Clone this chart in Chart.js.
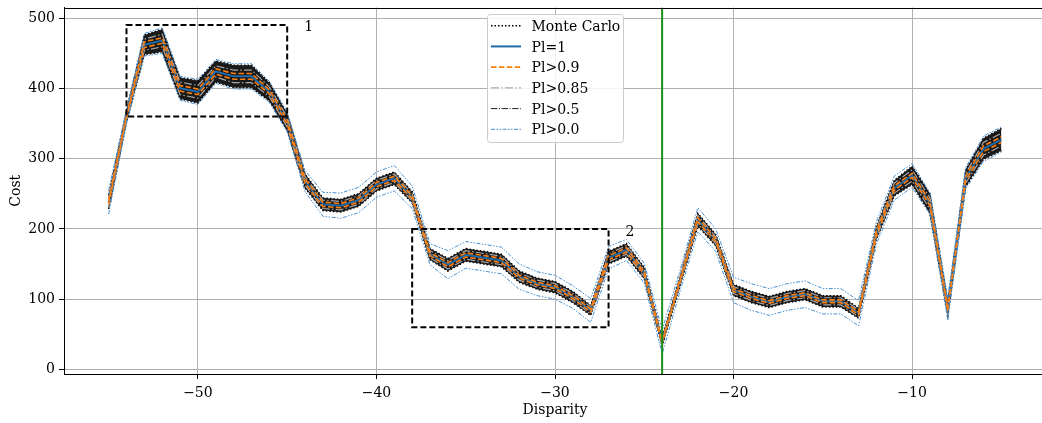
<!DOCTYPE html>
<html><head><meta charset="utf-8">
<script src="https://cdn.jsdelivr.net/npm/chart.js"></script>
<style>
html,body{margin:0;padding:0;background:#fff;overflow:hidden;width:1042px;height:423px;}
#wrap{position:relative;width:1050px;height:423px;}
canvas{display:block;}
</style></head><body>
<div id="wrap"><canvas id="c" width="1050" height="423"></canvas></div>
<script>
// ---- data ----
const disparity = [-55,-54,-53,-52,-51,-50,-49,-48,-47,-46,-45,-44,-43,-42,-41,-40,-39,-38,-37,-36,-35,-34,-33,-32,-31,-30,-29,-28,-27,-26,-25,-24,-23,-22,-21,-20,-19,-18,-17,-16,-15,-14,-13,-12,-11,-10,-9,-8,-7,-6,-5];
const plOne = [238,360,462,468,400,395,424,417,417,395,352,268,235,233,241,263,272,245,164,149,163,159,155,132,122,117,103,84,159,170,137,39,126,213,184,113,103,96,103,107,97,97,80,194,258,276,236,86,272,314,327];
// half-widths of the bands around Pl=1
const mcHalf   = [10,8,14,16,15,16,15,16,16,13,12,10,9,9,9,9,9,8,8,9,9,9,9,8,8,8,8,7,9,9,8,6,7,9,8,8,8,8,8,8,8,8,7,9,11,13,14,9,12,15,16];
const pl90Half = [3,2,4,4,4,4,4,4,4,3,3,3,3,3,3,3,3,2,2,3,3,3,3,2,2,2,2,2,3,3,2,2,2,3,2,2,2,2,2,2,2,2,2,3,3,3,3,2,3,4,4];
const pl85Half = [6,5,8,9,9,9,8,9,9,7,7,6,6,6,6,6,6,5,5,6,6,6,6,5,5,5,5,5,6,6,5,4,5,6,5,5,5,5,5,5,5,5,5,6,7,8,8,5,7,9,9];
const pl50Half = [9,7,13,15,14,15,14,15,15,12,11,9,8,8,8,8,8,7,7,8,8,8,8,7,7,7,7,6,8,8,7,5,6,8,7,7,7,7,7,7,7,7,6,8,10,12,13,8,11,14,15];
const pl0Half  = [17,10,16,18,17,18,17,18,18,15,14,15,17,18,18,18,18,16,15,20,19,19,19,18,17,17,16,17,16,15,14,17,15,17,16,18,19,19,19,19,18,18,18,16,17,17,15,16,15,18,18];
const xTicks = [-50,-40,-30,-20,-10];
const yTicks = [0,100,200,300,400,500];
const markedDisparity = -24;
const box1 = {x0:-54, x1:-45, y0:360, y1:490, label:'1', lx:-43.8, ly:488};
const box2 = {x0:-38, x1:-27, y0:60, y1:200, label:'2', lx:-25.8, ly:197};
const boxes = [box1, box2];

// ---- build series ----
function band(half, sign){ return disparity.map((x,i)=>({x:x, y:plOne[i] + sign*half[i]})); }
const centre = disparity.map((x,i)=>({x:x, y:plOne[i]}));

const FONT = '"DejaVu Serif", "Liberation Serif", serif';
const dotted = [1.5,2], dashed=[5.5,2.4], dashdot=[6.4,1.6,1,1.6], dashdotGray=[8,2.2,1.5,2.2], dashdotdot=[4,1.5,1.5,1.5,1.5,1.5];

function ds(label, data, color, width, dash, extra){
  return Object.assign({label:label, data:data, borderColor:color, borderWidth:width, borderDash:dash, fill:false, pointRadius:0, tension:0}, extra||{});
}
// listed bottom -> top
const datasets = [
  ds('Monte Carlo', band(mcHalf,1), '#000', 1.5, dotted, {legendRank:0}),
  ds('Monte Carlo lower', band(mcHalf,-1), '#000', 1.5, dotted, {fill:'-1', backgroundColor:'rgba(0,0,0,0.9)'}),
  ds('Pl>0.5', band(pl50Half,1), '#222', 1, dashdot, {legendRank:4}),
  ds('Pl>0.5 lower', band(pl50Half,-1), '#222', 1, dashdot),
  ds('Pl>0.85', band(pl85Half,1), '#a8a8a8', 1.2, dashdotGray, {legendRank:3}),
  ds('Pl>0.85 lower', band(pl85Half,-1), '#a8a8a8', 1.2, dashdotGray),
  ds('Pl=1', centre, '#1f6aa8', 2, [], {legendRank:1}),
  ds('Pl>0.9', band(pl90Half,1), '#ff7f0e', 1.6, dashed, {legendRank:2}),
  ds('Pl>0.9 lower', band(pl90Half,-1), '#ff7f0e', 1.6, dashed),
  ds('Pl>0.0', band(pl0Half,1), '#4a90d0', 1, dashdotdot, {legendRank:5}),
  ds('Pl>0.0 lower', band(pl0Half,-1), '#4a90d0', 1, dashdotdot)
];
datasets.forEach((d,i)=>{ d.order = datasets.length - i; });

function fmt(v){ return v < 0 ? '\u2212' + Math.abs(v) : String(v); }

const overlay = {
  id:'overlay',
  afterDatasetsDraw(chart){
    const {ctx, chartArea:a, scales:{x, y}} = chart;
    ctx.save();
    ctx.beginPath(); ctx.rect(a.left, a.top, a.right-a.left, a.bottom-a.top); ctx.clip();
    ctx.strokeStyle = '#000'; ctx.lineWidth = 2; ctx.setLineDash([6,3]);
    boxes.forEach(b=>{
      const px0 = x.getPixelForValue(b.x0), px1 = x.getPixelForValue(b.x1);
      const py0 = y.getPixelForValue(b.y0), py1 = y.getPixelForValue(b.y1);
      ctx.strokeRect(px0, py1, px1-px0, py0-py1);
    });
    ctx.setLineDash([]);
    const gx = x.getPixelForValue(markedDisparity);
    ctx.strokeStyle = '#1a8f1a'; ctx.lineWidth = 2;
    ctx.beginPath(); ctx.moveTo(gx, a.top); ctx.lineTo(gx, a.bottom); ctx.stroke();
    ctx.fillStyle = '#000'; ctx.font = '14px ' + FONT; ctx.textAlign = 'center'; ctx.textBaseline = 'alphabetic';
    boxes.forEach(b=>ctx.fillText(b.label, x.getPixelForValue(b.lx), y.getPixelForValue(b.ly) + 5));
    ctx.restore();
  },
  afterDraw(chart){
    const {ctx, chartArea:a} = chart;
    ctx.save();
    // top spine
    ctx.strokeStyle = '#000'; ctx.lineWidth = 1;
    ctx.beginPath(); ctx.moveTo(a.left, Math.round(a.top)+0.5); ctx.lineTo(a.right, Math.round(a.top)+0.5); ctx.stroke();
    // legend
    const bx = 487.5, by = 14.5, bw = 136, bh = 128, r = 3;
    ctx.beginPath();
    ctx.moveTo(bx+r, by); ctx.lineTo(bx+bw-r, by); ctx.arcTo(bx+bw, by, bx+bw, by+r, r);
    ctx.lineTo(bx+bw, by+bh-r); ctx.arcTo(bx+bw, by+bh, bx+bw-r, by+bh, r);
    ctx.lineTo(bx+r, by+bh); ctx.arcTo(bx, by+bh, bx, by+bh-r, r);
    ctx.lineTo(bx, by+r); ctx.arcTo(bx, by, bx+r, by, r); ctx.closePath();
    ctx.fillStyle = 'rgba(255,255,255,0.85)'; ctx.fill();
    ctx.strokeStyle = '#cccccc'; ctx.lineWidth = 1; ctx.stroke();
    const items = chart.data.datasets.filter(d=>d.legendRank !== undefined).sort((p,q)=>p.legendRank-q.legendRank);
    ctx.font = '14px ' + FONT; ctx.textAlign = 'left'; ctx.textBaseline = 'alphabetic';
    items.forEach((d,k)=>{
      const yy = 25.7 + k*20.72;
      ctx.strokeStyle = d.borderColor; ctx.lineWidth = d.borderWidth; ctx.setLineDash(d.borderDash || []);
      ctx.beginPath(); ctx.moveTo(491, yy); ctx.lineTo(521, yy); ctx.stroke();
      ctx.setLineDash([]);
      ctx.fillStyle = '#000';
      ctx.fillText(d.label, 531.5, yy + 5.1);
    });
    ctx.restore();
  }
};

new Chart(document.getElementById('c'), {
  type:'line',
  data:{datasets:datasets},
  plugins:[overlay],
  options:{
    responsive:false, animation:false, devicePixelRatio:1,
    layout:{padding:{left:0,right:4,top:7.5,bottom:0}},
    plugins:{legend:{display:false}, tooltip:{enabled:false}},
    scales:{
      x:{type:'linear', min:-57.5, max:-2.5,
        afterBuildTicks:s=>{ s.ticks = xTicks.map(v=>({value:v})); },
        afterFit:s=>{ s.height = 49; s.paddingLeft = 0; s.paddingRight = 0; },
        grid:{color:'#b0b0b0', lineWidth:1, tickColor:'#000', tickLength:5},
        border:{color:'#000', width:1},
        ticks:{color:'#000', font:{family:FONT, size:14}, padding:6, maxRotation:0, autoSkip:false, callback:fmt},
        title:{display:true, text:'Disparity', color:'#000', font:{family:FONT, size:14}, padding:{top:0,bottom:4}}
      },
      y:{type:'linear', min:-6.5, max:515,
        afterBuildTicks:s=>{ s.ticks = yTicks.map(v=>({value:v})); },
        afterFit:s=>{ s.width = 64; s.paddingTop = 0; s.paddingBottom = 0; },
        grid:{color:'#b0b0b0', lineWidth:1, tickColor:'#000', tickLength:5},
        border:{color:'#000', width:1},
        ticks:{color:'#000', font:{family:FONT, size:14}, padding:4, autoSkip:false, callback:fmt},
        title:{display:true, text:'Cost', color:'#000', font:{family:FONT, size:14}, padding:{top:8,bottom:0}}
      }
    }
  }
});
</script>
</body></html>
